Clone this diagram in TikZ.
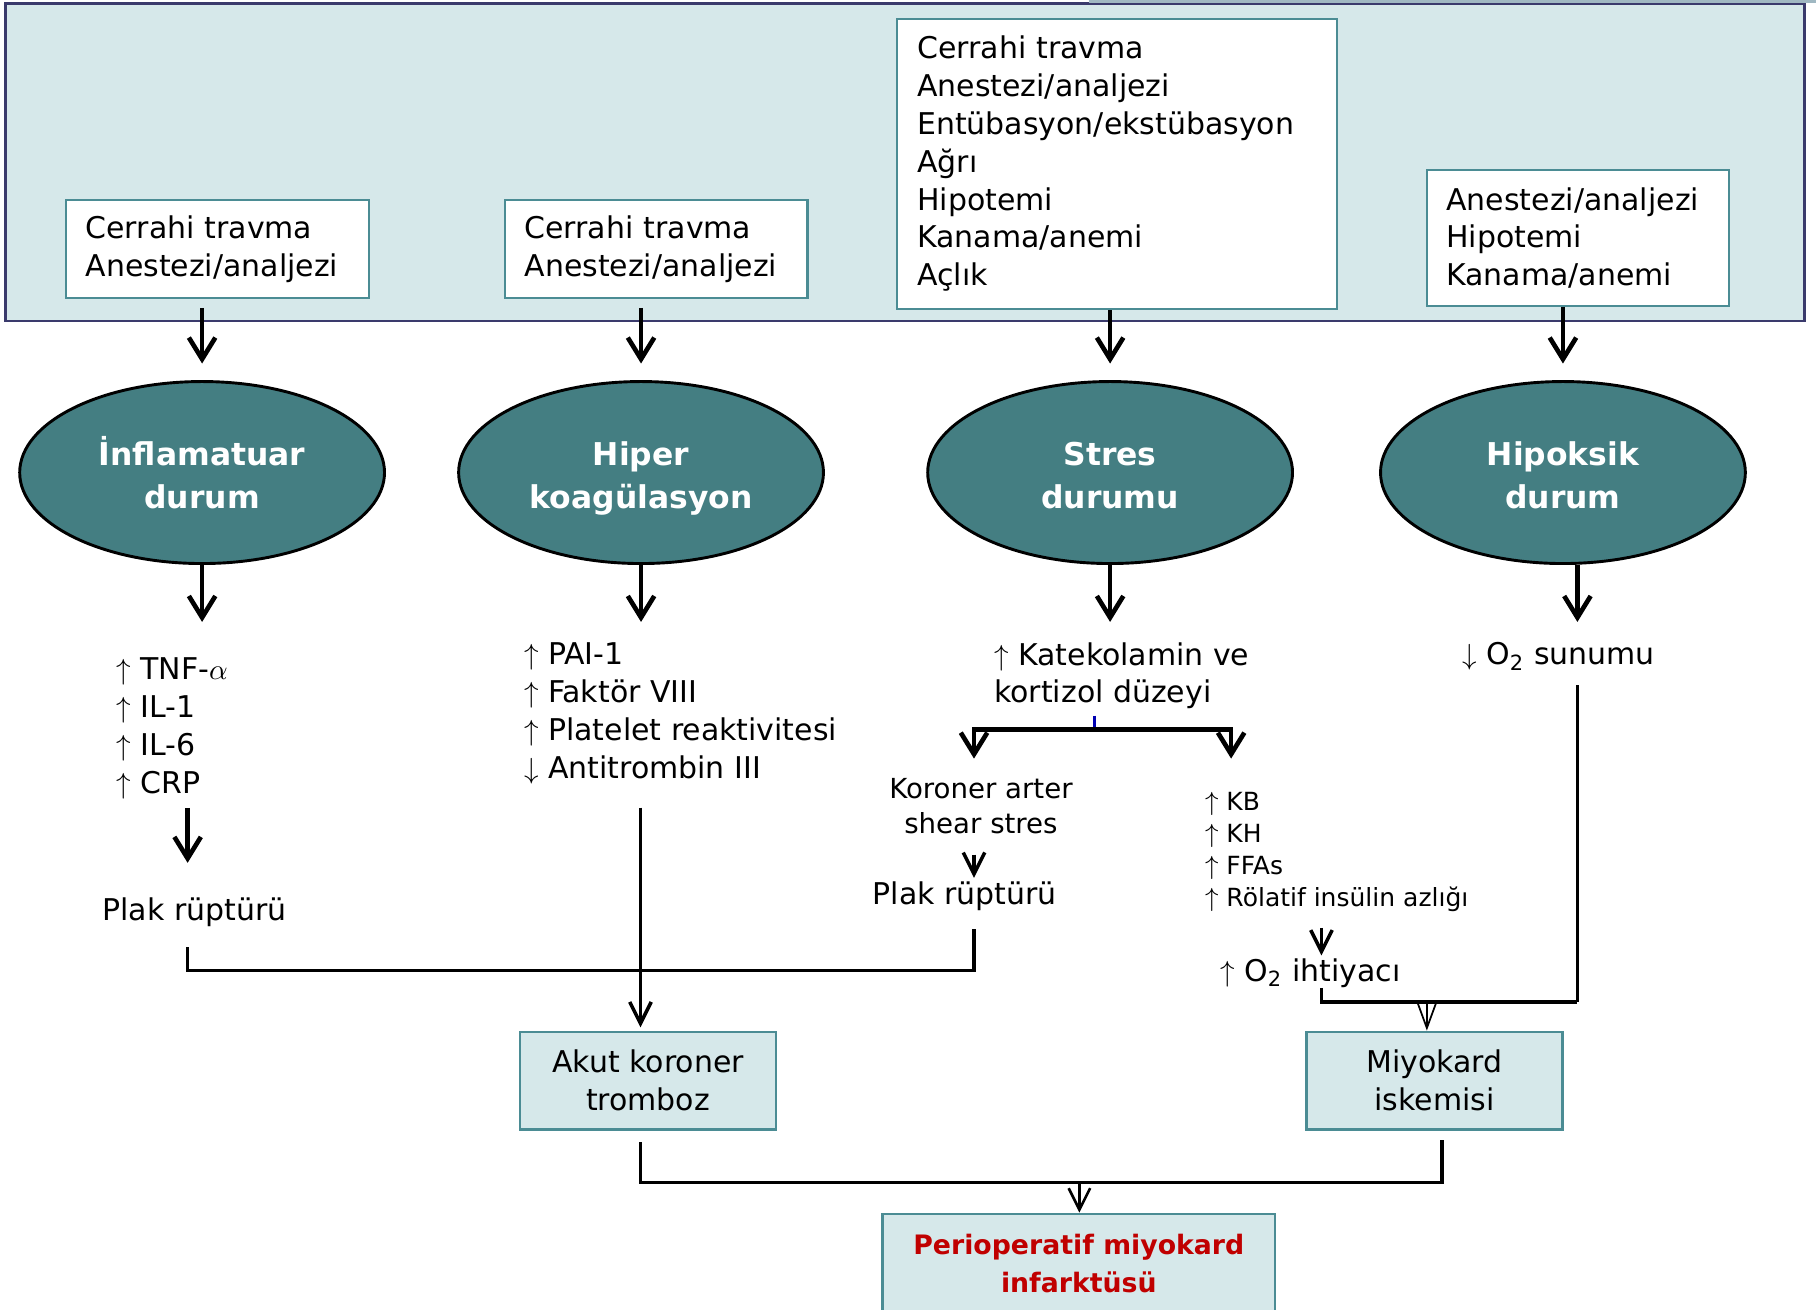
\documentclass[tikz,border=0pt]{standalone}
\usepackage{fontspec}
\setmainfont{DejaVu Sans}
\usetikzlibrary{positioning,shapes.geometric,arrows.meta}

\definecolor{bandfill}{RGB}{214,232,234}
\definecolor{bandline}{RGB}{58,58,108}
\definecolor{bandtop}{RGB}{160,184,194}
\definecolor{ovalfill}{RGB}{68,126,130}
\definecolor{boxline}{RGB}{75,140,148}
\definecolor{mired}{RGB}{192,0,0}

\newcommand\txtmain{\fontsize{10.3}{13}\selectfont}
\newcommand\txtmid{\fontsize{9.5}{11.9}\selectfont}
\newcommand\txtsmall{\fontsize{8.6}{11}\selectfont}
\newcommand\txtoval{\fontsize{10.8}{15}\selectfont\bfseries}

\tikzset{
  srcbox/.style={draw=boxline, line width=0.7pt, fill=white, align=left,
    inner xsep=2.4mm, inner ysep=0pt, font=\txtmain},
  state/.style={ellipse, draw=black, line width=1pt, fill=ovalfill,
    minimum width=44.1mm, minimum height=22mm, text=white, align=center,
    text height=27pt, text depth=2pt, font=\txtoval},
  outbox/.style={draw=boxline, line width=0.9pt, fill=bandfill, align=center,
    minimum width=30.94mm, minimum height=11.76mm, font=\txtmain},
  list/.style={anchor=west, align=left, inner sep=0pt, font=\txtmain},
  bigarrow/.style={line width=1.6pt, -{Straight Barb[length=2.6mm,width=3.2mm]}},
  midarrow/.style={line width=1.2pt, -{Straight Barb[length=2.6mm,width=2.6mm]}},
  thinarrow/.style={line width=0.6pt, -{Straight Barb[length=3mm,width=2.2mm]}},
  link/.style={line width=1.2pt},
}

\begin{document}
\begin{tikzpicture}[x=0.14mm,y=-0.14mm]
\useasboundingbox (0,0) rectangle (1568,1131);

\draw[bandline, line width=0.9pt, fill=bandfill] (5,3) rectangle (1558,277);
\draw[bandtop, line width=1.2pt] (940,1.5) -- (1568,1.5);

\node[srcbox, text width=31.8mm, minimum height=11.76mm] (b1) at (187.5,215)
  {Cerrahi travma\\Anestezi/analjezi};
\node[srcbox, text width=31.8mm, minimum height=11.76mm] (b2) at (566.5,215)
  {Cerrahi travma\\Anestezi/analjezi};
\node[srcbox, text width=48.3mm, minimum height=35.14mm] (b3) at (964.5,141.5)
  {Cerrahi travma\\Anestezi/analjezi\\Entübasyon/ekstübasyon\\Ağrı\\Hipotemi\\Kanama/anemi\\Açlık};
\node[srcbox, text width=31.8mm, minimum height=16.38mm] (b4) at (1362.5,205.5)
  {Anestezi/analjezi\\Hipotemi\\Kanama/anemi};

\node[state] (e1) at (174.5,408) {İnflamatuar\\durum};
\node[state] (e2) at (553.5,408) {Hiper\\koagülasyon};
\node[state] (e3) at (958.5,408) {Stres\\durumu};
\node[state] (e4) at (1349.5,408) {Hipoksik\\durum};

\draw[bigarrow, shorten <=1.1mm, shorten >=2mm] (b1.south -| e1) -- (e1.north);
\draw[bigarrow, shorten <=1.1mm, shorten >=2mm] (b2.south -| e2) -- (e2.north);
\draw[bigarrow, shorten >=2mm] (b3.south -| e3) -- (e3.north);
\draw[bigarrow, shorten >=2mm] (b4.south -| e4) -- (e4.north);

\coordinate (t1) at (174.5,537);
\coordinate (t2) at (553.5,537);
\coordinate (t3) at (958.5,537);
\coordinate (t4) at (1362,537);

\draw[bigarrow] (e1.south) -- (t1);
\draw[bigarrow] (e2.south) -- (t2);
\draw[bigarrow] (e3.south) -- (t3);
\draw[bigarrow] (t4 |- e4.south) -- (t4);

\node[list] (l1) at (100,629)
  {$\uparrow$ TNF-$\alpha$\\$\uparrow$ IL-1\\$\uparrow$ IL-6\\$\uparrow$ CRP};
\node[list] (l2) at (452,616)
  {$\uparrow$ PAI-1\\$\uparrow$ Faktör VIII\\$\uparrow$ Platelet reaktivitesi\\$\downarrow$ Antitrombin III};
\node[list] (l3) at (858,583.5) {$\uparrow$ Katekolamin ve\\kortizol düzeyi};
\node[list] (l4) at (1262,567) {$\downarrow$ O\textsubscript{2} sunumu};

\node[font=\txtmain] (plak1) at (168,788) {Plak rüptürü};
\node[font=\txtmid, align=center] (koroner) at (847,696) {Koroner arter\\shear stres};
\node[font=\txtmain] (plak2) at (833,774) {Plak rüptürü};
\node[list, font=\txtsmall] (l5) at (1040,735.5)
  {$\uparrow$ KB\\$\uparrow$ KH\\$\uparrow$ FFAs\\$\uparrow$ Rölatif insülin azlığı};
\node[list] (o2i) at (1053,840) {$\uparrow$ O\textsubscript{2} ihtiyacı};

\node[outbox] (akut) at (559.5,933) {Akut koroner\\tromboz};
\node[outbox] (miyo) at (1238.5,933) {Miyokard\\iskemisi};
\node[outbox, minimum width=47.46mm, minimum height=12mm, text=mired,
  font=\fontsize{9.2}{13}\selectfont\bfseries] (peri) at (931.5,1091)
  {Perioperatif miyokard\\infarktüsü};

\coordinate (k1) at (162,745);
\coordinate (m1) at (162,838);
\coordinate (m2) at (841,838);
\coordinate (k2) at (553,888);
\coordinate (s1) at (945,630);
\coordinate (sl) at (841,655);
\coordinate (sr) at (1063,655);
\coordinate (k3) at (841,758);
\coordinate (k4) at (1141,825);
\coordinate (n1) at (1141,865);
\coordinate (n2) at (1362,865);
\coordinate (n3) at (1232,865);
\coordinate (g1) at (553,1021);
\coordinate (g2) at (1245,1021);
\coordinate (g3) at (932,1021);

\draw[bigarrow, shorten <=1mm] (l1.south -| k1) -- (k1);
\draw[link, shorten <=1.2mm, shorten >=1mm] (plak1.south -| m1) -- (m1) -- (m2) -- (plak2.south -| m2);
\draw[midarrow, shorten <=2.8mm, shorten >=0.4mm] (l2.south -| k2) -- (akut.north -| k2);

\draw[blue!70!black, line width=0.8pt, shorten <=0.7mm] (l3.south -| s1) -- (s1);
\draw[bigarrow] (s1) -| (sl);
\draw[bigarrow] (s1) -| (sr);
\draw[midarrow, shorten <=1.3mm] (koroner.south -| k3) -- (k3);
\draw[midarrow, shorten <=1.9mm] (l5.south -| k4) -- (k4);

\draw[link] (o2i.south -| n1) -- (n1) -- (n2);
\draw[link, shorten <=1.7mm] (l4.south -| n2) -- (n2);
\draw[thinarrow] (n3) -- (miyo.north -| n3);

\draw[link, shorten <=1.4mm, shorten >=1.1mm] (akut.south -| g1) -- (g1) -- (g2) -- (miyo.south -| g2);
\draw[midarrow, line width=0.9pt] (g3) -- (peri.north -| g3);

\end{tikzpicture}
\end{document}
